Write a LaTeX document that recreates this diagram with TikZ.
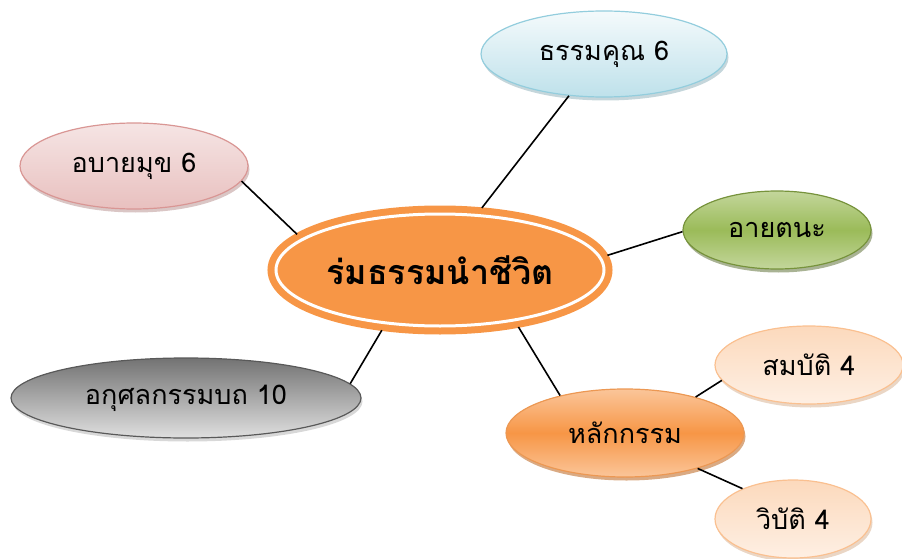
\documentclass[tikz,border=0pt]{standalone}
\usepackage{fontspec}
\newfontfamily\thaifont[Script=Thai]{Loma}
\usepackage{xcolor}
\usepackage{tikz}
\usetikzlibrary{shapes.geometric,shadows}

\definecolor{ctrOrange}{HTML}{F79646}
\definecolor{kunLine}{HTML}{93CDDD}
\definecolor{abayLine}{HTML}{D99694}
\definecolor{ayatLine}{HTML}{77933C}
\definecolor{ayatFill}{HTML}{9BBB59}
\definecolor{akusLine}{HTML}{595959}
\definecolor{kamLine}{HTML}{E46C0A}
\definecolor{peachLine}{HTML}{FAC090}

\begin{document}
\begin{tikzpicture}[
  x=1pt,y=-1pt,
  bubble/.style={ellipse,draw,line width=1.2pt,inner sep=0pt,
    font=\thaifont\fontsize{27}{31}\selectfont,align=center},
  hub/.style={ellipse,fill=ctrOrange,draw=white,line width=3pt,
    preaction={draw=ctrOrange,line width=17pt},
    inner sep=0pt,outer sep=8pt,
    font=\thaifont\bfseries\fontsize{34}{39}\selectfont},
  kunbox/.style={bubble,draw=kunLine,top color=white!90!kunLine,
    bottom color=kunLine!60,
    drop shadow={shadow xshift=1.5pt,shadow yshift=-3.5pt,fill=kunLine!60!gray}},
  abaybox/.style={bubble,draw=abayLine,top color=abayLine!25,
    bottom color=abayLine!60,
    drop shadow={shadow xshift=1.5pt,shadow yshift=-3.5pt,fill=abayLine!60!gray}},
  ayatbox/.style={bubble,draw=ayatLine,top color=ayatFill!60!white,
    bottom color=ayatFill!60!white,middle color=ayatFill,
    drop shadow={shadow xshift=1.5pt,shadow yshift=-3.5pt,fill=ayatLine!70!black}},
  akusbox/.style={bubble,draw=akusLine,top color=gray!90!black,
    bottom color=gray!25,
    drop shadow={shadow xshift=1.5pt,shadow yshift=-3.5pt,fill=gray!60}},
  kambox/.style={bubble,draw=kamLine!70,top color=ctrOrange!55,
    bottom color=ctrOrange!55,middle color=ctrOrange,
    drop shadow={shadow xshift=1.5pt,shadow yshift=-3.5pt,fill=kamLine!80!black}},
  peachbox/.style={bubble,draw=peachLine,top color=peachLine!60,
    bottom color=peachLine!25,
    drop shadow={shadow xshift=1.5pt,shadow yshift=-3.5pt,fill=peachLine!70!gray}}
]
\useasboundingbox (0,0) rectangle (902,559);
\node[hub,minimum width=328pt,minimum height=112pt] (ctr)
  at (440,270) {ร่มธรรมนำชีวิต};
\node[kunbox,minimum width=246pt,minimum height=86pt] (kun)
  at (604,54) {ธรรมคุณ 6};
\node[abaybox,minimum width=228pt,minimum height=86pt] (abay)
  at (134,166) {อบายมุข 6};
\node[ayatbox,minimum width=188pt,minimum height=78pt] (ayat)
  at (777,230) {อายตนะ};
\node[akusbox,minimum width=350pt,minimum height=80pt] (akus)
  at (186,398) {อกุศลกรรมบถ 10};
\node[kambox,minimum width=238pt,minimum height=88pt] (kam)
  at (625,433) {หลักกรรม};
\node[peachbox,minimum width=188pt,minimum height=78pt] (som)
  at (809,365) {สมบัติ 4};
\node[peachbox,minimum width=156pt,minimum height=78pt] (wib)
  at (793,519) {วิบัติ 4};
\foreach \a/\x/\b in {56/kun/230,166/abay/-8,5/ayat/181,
                      226/akus/5,-36/kam/150}
  \draw[line width=1.6pt] (ctr.\a) -- (\x.\b);
\foreach \a/\x/\b in {27/som/190,-26/wib/149}
  \draw[line width=1.6pt] (kam.\a) -- (\x.\b);
\end{tikzpicture}
\end{document}
